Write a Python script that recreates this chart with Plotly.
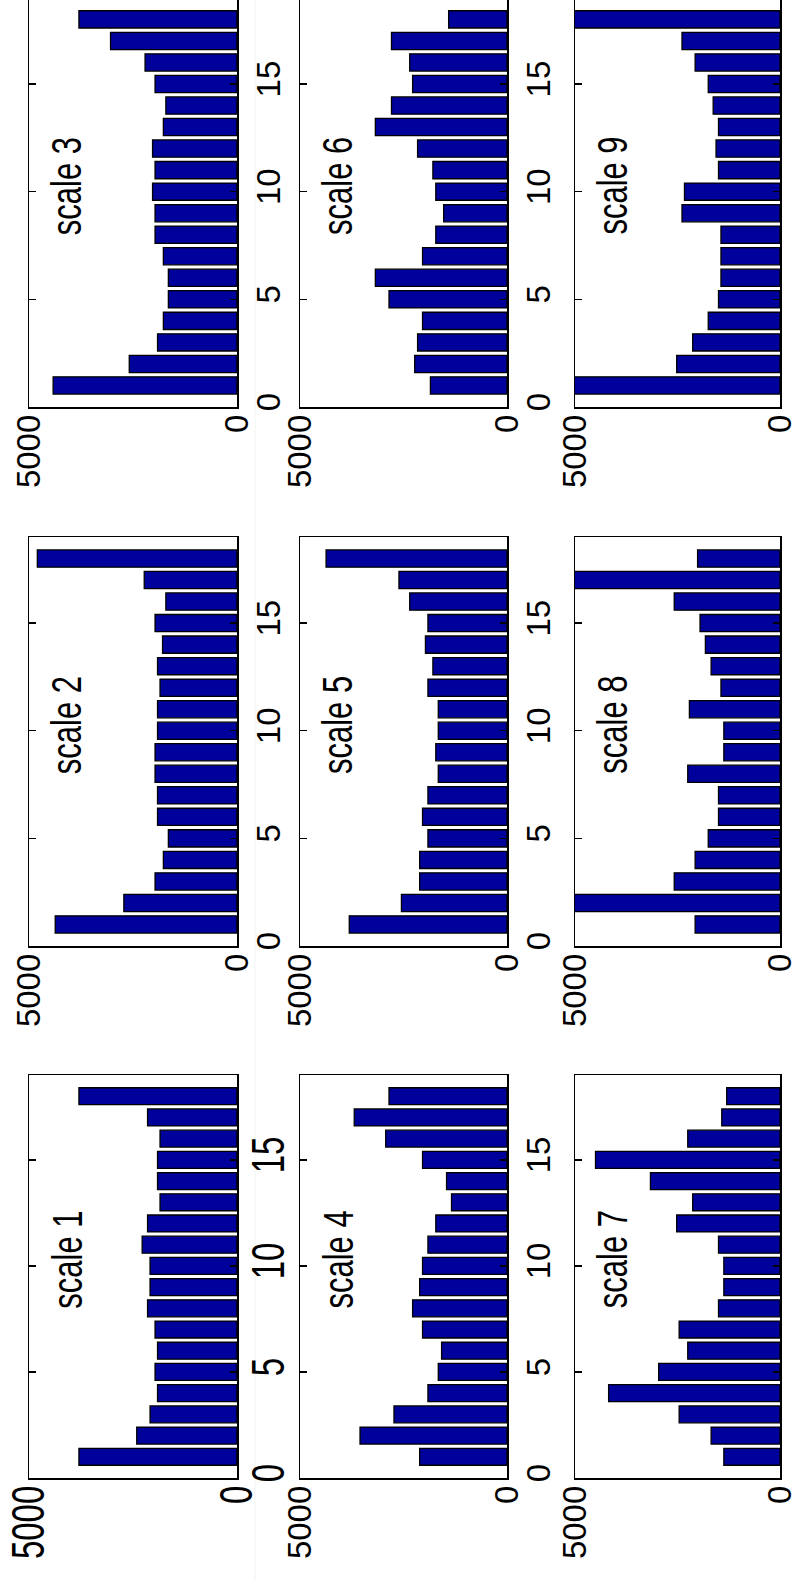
import plotly.graph_objects as go

# ---- data (histogram counts per bin, bins 1..18) ----
bins = list(range(1, 19))
scale1 = [3800, 2410, 2090, 1910, 1970, 1910, 1970, 2150, 2090, 2090, 2280, 2150, 1850, 1910, 1910, 1850, 2150, 3800]
scale2 = [4370, 2720, 1970, 1770, 1650, 1910, 1910, 1970, 1970, 1910, 1910, 1850, 1910, 1790, 1970, 1710, 2230, 4800]
scale3 = [4420, 2590, 1910, 1770, 1650, 1650, 1770, 1970, 1970, 2030, 1970, 2030, 1770, 1710, 1970, 2210, 3040, 3800]
scale4 = [2110, 3550, 2730, 1910, 1660, 1580, 2040, 2280, 2110, 2040, 1910, 1720, 1340, 1460, 2040, 2930, 3690, 2850]
scale5 = [3810, 2550, 2110, 2110, 1910, 2040, 1910, 1660, 1720, 1660, 1660, 1910, 1790, 1970, 1910, 2350, 2610, 4370]
scale6 = [1850, 2230, 2160, 2040, 2850, 3180, 2040, 1720, 1530, 1720, 1790, 2160, 3180, 2790, 2280, 2350, 2790, 1410]
scale7 = [1370, 1680, 2460, 4180, 2960, 2250, 2460, 1500, 1370, 1370, 1500, 2520, 2130, 3160, 4500, 2250, 1420, 1300]
scale8 = [2070, 5600, 2580, 2070, 1750, 1500, 1500, 2250, 1370, 1370, 2210, 1440, 1680, 1820, 1950, 2580, 5600, 2010]
scale9 = [5600, 2520, 2130, 1750, 1500, 1440, 1440, 1440, 2390, 2330, 1500, 1560, 1500, 1630, 1750, 2070, 2390, 5600]
series = [scale1, scale2, scale3, scale4, scale5, scale6, scale7, scale8, scale9]
labels = ["scale %d" % k for k in range(1, 10)]
value_ticks = [0, 5000]
value_ticktext = ["0", "5000"]
bin_ticks = [0, 5, 10, 15]

W, H = 796, 1581
FONT = "Liberation Sans, Arial, Helvetica, sans-serif"
BAR = "#00009A"

col_px = [(29, 237), (300, 507), (575, 780)]
row_px = {0: (1075, 1478), 1: (537, 946), 2: (0, 407)}
row_top = {0: 19, 1: 19, 2: 18.9}

fig = go.Figure()
for k, vals in enumerate(series):
    i = k + 1
    r, c = k // 3, k % 3
    x0, x1 = col_px[r]
    y0, y1 = row_px[c]
    xs = "" if i == 1 else str(i)
    fig.add_trace(go.Bar(
        x=vals, y=bins, orientation="h", width=0.8,
        marker=dict(color=BAR, line=dict(color="black", width=1.3)),
        xaxis="x" + xs, yaxis="y" + xs, showlegend=False, hoverinfo="skip"))
    fig.layout["xaxis" + xs] = dict(
        domain=[x0 / W, x1 / W], anchor="y" + xs, range=[5000, 0],
        tickmode="array", tickvals=value_ticks, ticktext=value_ticktext,
        tickangle=-90, ticks="", showline=True, linecolor="black", linewidth=1.5,
        mirror=(c != 2), showgrid=False, zeroline=False, automargin=False,
        ticklabeloverflow="allow",
        tickfont=dict(family=FONT, size=33, color="black"), ticklabelstandoff=-7)
    fig.layout["yaxis" + xs] = dict(
        domain=[1 - y1 / H, 1 - y0 / H], anchor="x" + xs, side="right",
        range=[0, row_top[c]], tickmode="array", tickvals=bin_ticks,
        tickangle=-90, ticks="inside", ticklen=7, tickwidth=1.5, tickcolor="black",
        showline=True, linecolor="black", linewidth=1.5, mirror="ticks",
        showgrid=False, zeroline=False, automargin=False,
        showticklabels=(r != 2), ticklabeloverflow="allow",
        tickfont=dict(family=FONT, size=33, color="black"), ticklabelstandoff=2)
    fig.add_annotation(
        text=labels[k], xref="x" + xs, yref="y" + xs, x=4080, y=7.9,
        xanchor="center", yanchor="bottom", textangle=-90, showarrow=False,
        font=dict(family=FONT, size=31, color="black"))

fig.add_shape(type="line", xref="paper", yref="paper", x0=255 / W, x1=255 / W,
              y0=0, y1=1, line=dict(color="#f3f3f3", width=1), layer="below")

fig.update_layout(width=W, height=H, margin=dict(l=0, r=0, t=0, b=0, autoexpand=False),
                  paper_bgcolor="white", plot_bgcolor="white", bargap=0,
                  font=dict(family=FONT, color="black"))

# The reference text is drawn taller (glyph height) than its width; stretch the
# rotated text along its glyph-height axis after Plotly has drawn it.
post = """
document.body.style.margin='0px';
document.body.style.overflow='hidden';
(function(){
  var gd = document.getElementById('{plot_id}');
  function stretch(){
    if(!gd) return;
    var els = gd.querySelectorAll('g.xtick text, g.ytick text, g.annotation-text-g text');
    els.forEach(function(t){
      if(t.getAttribute('data-str')) return;
      var b = t.getBBox();
      if(!b || !b.height) return;
      var cx = b.x + b.width/2, cy = b.y + b.height/2;
      var tr = t.getAttribute('transform') || '';
      t.setAttribute('transform', tr + ' translate(' + cx + ',' + cy + ') scale(1,1.38) translate(' + (-cx) + ',' + (-cy) + ')');
      t.setAttribute('data-str', '1');
    });
  }
  try { stretch(); } catch(e) {}
  if(gd && gd.on) gd.on('plotly_afterplot', function(){ try { stretch(); } catch(e) {} });
  setTimeout(function(){ try { stretch(); } catch(e) {} }, 60);
})();
"""
fig.write_html("out.html", config={"staticPlot": True}, post_script=post)
